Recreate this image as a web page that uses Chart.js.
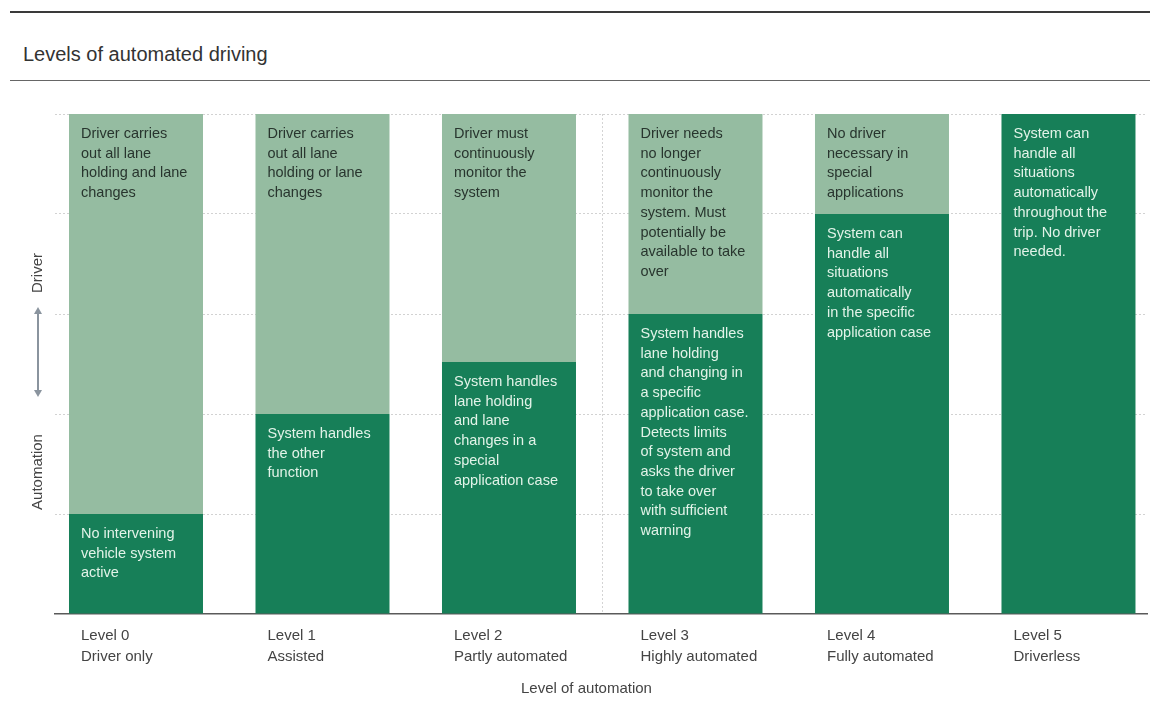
<!DOCTYPE html>
<html>
<head>
<meta charset="utf-8">
<script src="https://cdn.jsdelivr.net/npm/chart.js@4/dist/chart.umd.min.js"></script>
<style>
  html, body { margin: 0; padding: 0; background: #fff; }
  body { width: 1150px; height: 706px; position: relative; overflow: hidden; font-family: "Liberation Sans", Arial, sans-serif; }
  #wrap { position: absolute; left: 0; top: 0; width: 1150px; height: 706px; }
  .rule-top { position: absolute; left: 10px; top: 11px; width: 1140px; height: 2px; background: #3a3a3a; }
  .rule-sub { position: absolute; left: 10px; top: 80px; width: 1140px; height: 1px; background: #666; }
  .title { position: absolute; left: 23px; top: 41px; font-size: 20px; line-height: 26px; color: #333; }
  .xtitle { position: absolute; left: 521px; top: 679px; font-size: 15px; line-height: 18px; color: #444; }
</style>
</head>
<body>
<div class="rule-top"></div>
<div class="title">Levels of automated driving</div>
<div class="rule-sub"></div>
<div id="wrap"><canvas id="c"></canvas></div>
<div class="xtitle">Level of automation</div>
<script>
// ---- data ----
const levels = ['Level 0', 'Level 1', 'Level 2', 'Level 3', 'Level 4', 'Level 5'];
const levelNames = ['Driver only', 'Assisted', 'Partly automated', 'Highly automated', 'Fully automated', 'Driverless'];
const automationShare = [1, 2, 2.52, 3, 4, 5];
const driverShare = [4, 3, 2.48, 2, 1, 0];
const driverText = [
  ['Driver carries', 'out all lane', 'holding and lane', 'changes'],
  ['Driver carries', 'out all lane', 'holding or lane', 'changes'],
  ['Driver must', 'continuously', 'monitor the', 'system'],
  ['Driver needs', 'no longer', 'continuously', 'monitor the', 'system. Must', 'potentially be', 'available to take', 'over'],
  ['No driver', 'necessary in', 'special', 'applications'],
  []
];
const systemText = [
  ['No intervening', 'vehicle system', 'active'],
  ['System handles', 'the other', 'function'],
  ['System handles', 'lane holding', 'and lane', 'changes in a', 'special', 'application case'],
  ['System handles', 'lane holding', 'and changing in', 'a specific', 'application case.', 'Detects limits', 'of system and', 'asks the driver', 'to take over', 'with sufficient', 'warning'],
  ['System can', 'handle all', 'situations', 'automatically', 'in the specific', 'application case'],
  ['System can', 'handle all', 'situations', 'automatically', 'throughout the', 'trip. No driver', 'needed.']
];
const yAxisLabels = ['Driver', 'Automation'];

const FONT = '"Liberation Sans", Arial, sans-serif';
const DARK = '#177f58';
const LIGHT = '#95bca1';

const automationData = automationShare.map((v, i) => ({ x: i, y: v }));
const driverData = driverShare.map((v, i) => ({ x: i, y: v }));
const segmentTexts = [systemText, driverText];

const decorPlugin = {
  id: 'decor',
  beforeDatasetsDraw(chart) {
    const { ctx, chartArea, scales } = chart;
    const xs = Math.round(scales.x.getPixelForValue(2.5)) + 0.5;
    ctx.save();
    ctx.strokeStyle = '#d4d4d4';
    ctx.lineWidth = 1;
    ctx.setLineDash([2, 2]);
    ctx.beginPath();
    ctx.moveTo(xs, chartArea.top);
    ctx.lineTo(xs, chartArea.bottom);
    ctx.stroke();
    ctx.restore();
  },
  afterDatasetsDraw(chart) {
    const { ctx } = chart;
    ctx.save();
    ctx.font = '14.5px ' + FONT;
    ctx.textAlign = 'left';
    ctx.textBaseline = 'middle';
    chart.data.datasets.forEach((ds, di) => {
      const meta = chart.getDatasetMeta(di);
      meta.data.forEach((bar, i) => {
        const lines = segmentTexts[di][i];
        if (!lines || !lines.length) return;
        const p = bar.getProps(['x', 'y', 'base', 'width'], true);
        const left = p.x - p.width / 2;
        const top = Math.min(p.y, p.base);
        ctx.fillStyle = di === 0 ? '#e2f3e8' : '#28352e';
        lines.forEach((t, k) => ctx.fillText(t, left + 12, top + 20 + k * 19.7));
      });
    });
    const yS = chart.scales.y;
    const ax = 38;
    ctx.fillStyle = '#444';
    ctx.font = '15px ' + FONT;
    ctx.textAlign = 'center';
    ctx.textBaseline = 'middle';
    [[yAxisLabels[0], yS.getPixelForValue(3.41)], [yAxisLabels[1], yS.getPixelForValue(1.42)]].forEach(([t, y]) => {
      ctx.save();
      ctx.translate(ax, y);
      ctx.rotate(-Math.PI / 2);
      ctx.fillText(t, 0, 0);
      ctx.restore();
    });
    const yTop = yS.getPixelForValue(3.07), yBot = yS.getPixelForValue(2.17);
    ctx.strokeStyle = '#8a949e';
    ctx.fillStyle = '#8a949e';
    ctx.lineWidth = 2;
    ctx.beginPath();
    ctx.moveTo(ax, yTop + 4);
    ctx.lineTo(ax, yBot - 4);
    ctx.stroke();
    ctx.beginPath();
    ctx.moveTo(ax, yTop); ctx.lineTo(ax - 4, yTop + 7); ctx.lineTo(ax + 4, yTop + 7); ctx.closePath(); ctx.fill();
    ctx.beginPath();
    ctx.moveTo(ax, yBot); ctx.lineTo(ax - 4, yBot - 7); ctx.lineTo(ax + 4, yBot - 7); ctx.closePath(); ctx.fill();
    ctx.restore();
  }
};

new Chart(document.getElementById('c'), {
  type: 'bar',
  data: {
    datasets: [
      { label: 'Automation', data: automationData, backgroundColor: DARK, borderWidth: 0, barPercentage: 1, categoryPercentage: 0.7185 },
      { label: 'Driver', data: driverData, backgroundColor: LIGHT, borderWidth: 0, barPercentage: 1, categoryPercentage: 0.7185 }
    ]
  },
  options: {
    responsive: true,
    maintainAspectRatio: false,
    animation: false,
    layout: { padding: { top: 114, left: 55, right: 3, bottom: 0 } },
    plugins: { legend: { display: false }, tooltip: { enabled: false } },
    scales: {
      x: {
        type: 'linear',
        stacked: true,
        offset: false,
        min: -0.4343,
        max: 5.421,
        grid: { display: false, offset: false },
        border: { display: true, color: '#5a5a5a', width: 1.5 },
        ticks: {
          stepSize: 1,
          includeBounds: false,
          autoSkip: false,
          maxRotation: 0,
          align: 'start',
          labelOffset: -55,
          padding: 3,
          color: '#444',
          font: { family: FONT, size: 15, lineHeight: 1.4 },
          callback: (v) => Number.isInteger(v) && v >= 0 && v < levels.length ? [levels[v], levelNames[v]] : ''
        },
        afterFit: (s) => { s.height = 92; }
      },
      y: {
        stacked: true,
        min: 0,
        max: 5,
        ticks: { display: false, stepSize: 1 },
        grid: {
          drawTicks: false,
          color: (c) => (c.tick && c.tick.value === 0) ? 'rgba(0,0,0,0)' : '#d2d2d2',
          lineWidth: 1
        },
        border: { display: false, dash: [2, 2] },
        afterFit: (s) => { s.width = 0; }
      }
    }
  },
  plugins: [decorPlugin]
});
</script>
</body>
</html>
